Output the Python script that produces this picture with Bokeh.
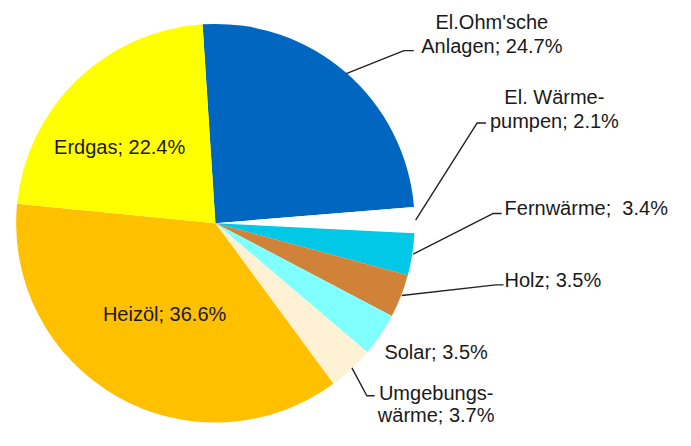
import numpy as np
from bokeh.plotting import figure
from bokeh.models import Range1d, ColumnDataSource
from bokeh.core.properties import value
from bokeh.embed import file_html
from bokeh.resources import INLINE

categories = ["El.Ohm'sche Anlagen", "El. Wärmepumpen", "Fernwärme", "Holz", "Solar",
              "Umgebungswärme", "Heizöl", "Erdgas"]
shares = [24.7, 2.1, 3.4, 3.5, 3.5, 3.7, 36.6, 22.4]
colors = ["#0066BF", "#FFFFFF", "#00C8E6", "#D08238", "#80FFFF", "#FFF2D4", "#FFC000", "#FFFF00"]
label_lines = [["El.Ohm'sche", "Anlagen; 24.7%"], ["El. Wärme-", "pumpen; 2.1%"],
               ["Fernwärme;\u00a0 3.4%"], ["Holz; 3.5%"], ["Solar; 3.5%"],
               ["Umgebungs-", "wärme; 3.7%"], ["Heizöl; 36.6%"], ["Erdgas; 22.4%"]]

H = 446
W = 691
def Y(y):
    return H - y

cx, cy, R = 220, Y(231), 204
start = np.deg2rad(93.7)

vals = np.array(shares)
frac = vals / vals.sum()
cum = np.concatenate([[0], np.cumsum(frac)])
ends = start - cum[:-1] * 2 * np.pi
starts = start - cum[1:] * 2 * np.pi
mids = (starts + ends) / 2

p = figure(width=675, height=430, output_backend="svg", toolbar_location=None,
           x_range=Range1d(0, W), y_range=Range1d(0, H), min_border=0)
p.axis.visible = False
p.grid.visible = False
p.outline_line_color = None

src = ColumnDataSource(dict(start=starts, end=ends, color=colors))
p.wedge(x=cx, y=cy, radius=R, start_angle="start", end_angle="end",
        fill_color="color", line_color=None, source=src)

# label layout: (anchor x, first line y, align, elbow points, line spacing)
layout = {
    0: (503, 22, "center", [(413, 52), (423, 52)], 25),
    1: (567, 100, "center", [(488, 127), (497, 127)], 25),
    2: (516, 215, "left", [(504, 221), (513, 221)], 25),
    3: (516, 290, "left", [(507, 295), (515, 295)], 25),
    4: (393, 365, "left", None, 25),
    5: (446, 407, "center", [(375, 410), (383, 410)], 23),
    6: (168, 325, "center", None, 25),
    7: (122, 152, "center", None, 25),
}
for i, (lx, ly, align, elbow, lh) in layout.items():
    lines = label_lines[i]
    xs = [lx] * len(lines)
    ys = [Y(ly + k * lh) for k in range(len(lines))]
    p.text(x=xs, y=ys, text=lines, text_font=value("Liberation Sans"),
           text_font_size="20px", text_align=align, text_baseline="middle",
           text_color="#1a1a1a")
    if elbow:
        sx = cx + (R + 1) * np.cos(mids[i])
        sy = cy + (R + 1) * np.sin(mids[i])
        px = [sx] + [e[0] for e in elbow]
        py = [sy] + [Y(e[1]) for e in elbow]
        p.line(px, py, line_color="#222222", line_width=1.4)

open("out.html", "w").write(file_html(p, INLINE))
